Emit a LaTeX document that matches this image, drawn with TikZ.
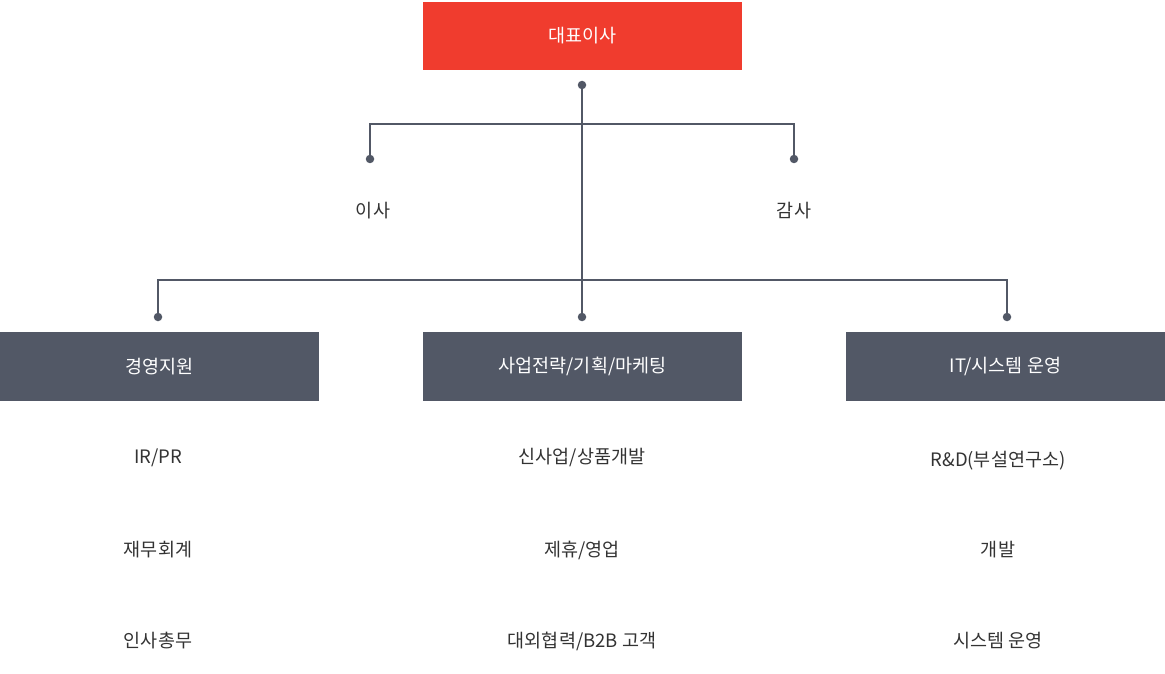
\documentclass[tikz,border=0pt]{standalone}
\usepackage{fontspec}
\setmainfont{Noto Sans CJK KR}
\usepackage{tikz}
\definecolor{ceored}{RGB}{240,60,46}
\definecolor{deptgray}{RGB}{82,88,102}
\definecolor{itemtext}{RGB}{51,51,51}
\tikzset{every picture/.style={line width=0.75pt}}
\tikzset{
  headbox/.style={fill=ceored, text=white, minimum width=319pt, minimum height=68pt, inner sep=0pt, font=\fontsize{18.5}{22}\selectfont},
  deptbox/.style={fill=deptgray, text=white, minimum width=319pt, minimum height=69pt, inner sep=0pt, font=\fontsize{18.5}{22}\selectfont},
  itemtxt/.style={text=itemtext, inner sep=0.75pt, font=\fontsize{18.5}{22}\selectfont},
  dotnode/.style={circle, fill=deptgray, minimum size=8.5pt, inner sep=0pt},
  conn/.style={draw=deptgray, line width=1.3pt}
}

\begin{document}
\begin{tikzpicture}[x=1pt,y=1pt,yscale=-1,xscale=1]
\useasboundingbox (0,0) rectangle (1165,674);

% Boxes
\node [headbox] (ceo) at (582.5,36) {대표이사};
\node [deptbox] (mgmt) at (159.5,366.5) {경영지원};
\node [deptbox] (strat) at (582.5,366.5) {사업전략/기획/마케팅};
\node [deptbox] (itops) at (1005.5,366.5) {IT/시스템 운영};

% Dots
\node [dotnode] (dceo) at (582,85) {};
\node [dotnode] (ddir) at (370,159) {};
\node [dotnode] (daud) at (794,159) {};
\node [dotnode] (dmgmt) at (158,317) {};
\node [dotnode] (dstrat) at (582,317) {};
\node [dotnode] (ditops) at (1007,317) {};
\coordinate (jtop) at (582,124);
\coordinate (jbot) at (582,280);

% Connectors
\draw [conn] (dceo.center) -- (dstrat.center);
\draw [conn] (ddir.center) |- (jtop) -| (daud.center);
\draw [conn] (dmgmt.center) |- (jbot) -| (ditops.center);

% Text Node
\node [itemtxt] (dir) at (373,211) {이사};
\node [itemtxt] (aud) at (794,211) {감사};

% Text Node
\node [itemtxt] (m1) at (158,458) {IR/PR};
\node [itemtxt] (m2) at (158,550) {재무회계};
\node [itemtxt] (m3) at (158,641) {인사총무};
\node [itemtxt] (s1) at (582,458) {신사업/상품개발};
\node [itemtxt] (s2) at (582,550) {제휴/영업};
\node [itemtxt] (s3) at (582,641) {대외협력/B2B 고객};
\node [itemtxt] (i1) at (998,461) {R\&D(부설연구소)};
\node [itemtxt] (i2) at (998,550) {개발};
\node [itemtxt] (i3) at (998,641) {시스템 운영};

\end{tikzpicture}
\end{document}
